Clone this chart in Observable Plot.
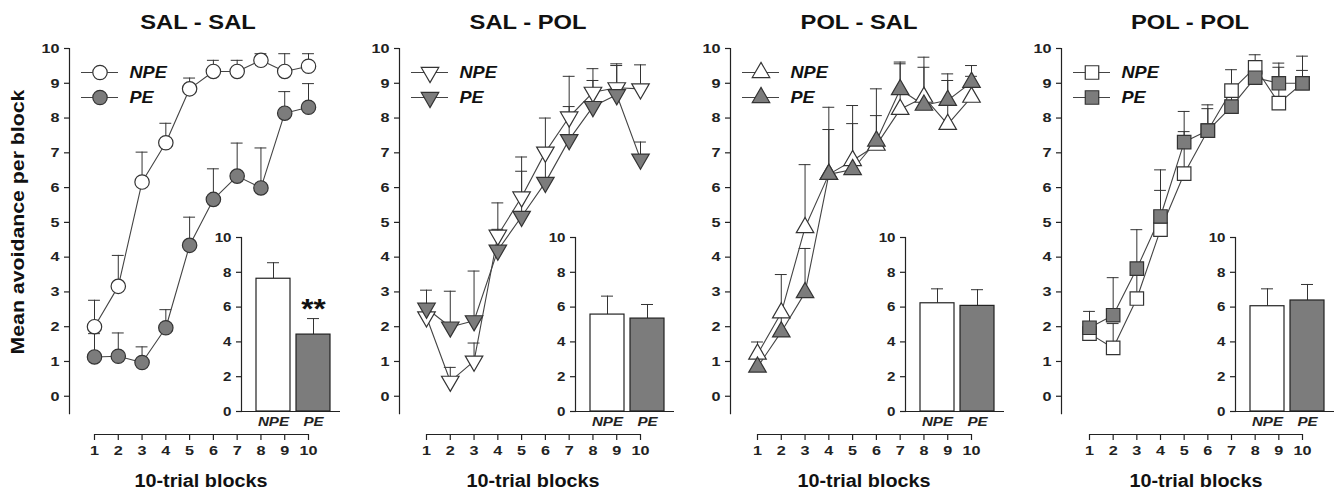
<!DOCTYPE html>
<html>
<head>
<meta charset="utf-8">
<script src="https://cdn.jsdelivr.net/npm/d3@7"></script>
<script src="https://cdn.jsdelivr.net/npm/@observablehq/plot@0.6"></script>
<style>
  body { margin: 0; background: #fff; }
  #chart { position: relative; width: 1337px; height: 502px; overflow: hidden;
           font-family: "Liberation Sans", Arial, sans-serif; color: #111; }
  #chart svg { position: absolute; background: transparent; max-width: none; }
  .lbl { position: absolute; font-weight: bold; white-space: nowrap; }
  .title { font-size: 21px; transform: translate(-50%, -50%) scaleX(1.13); }
  .xlab { font-size: 18px; transform: translate(-50%, -50%) scaleX(1.1); }
  .ylab { font-size: 19px; transform: translate(-50%, -50%) rotate(-90deg) scaleX(1.12); }
</style>
</head>
<body>
<div id="chart"></div>
<script>
// ---------------- data ----------------
const blocks = [1, 2, 3, 4, 5, 6, 7, 8, 9, 10];
const groups = ["NPE", "PE"];
const panelTitles = ["SAL - SAL", "SAL - POL", "POL - SAL", "POL - POL"];
const yTicks = [0, 1, 2, 3, 4, 5, 6, 7, 8, 9, 10];
const insetTicks = [0, 2, 4, 6, 8, 10];
const xLabel = "10-trial blocks";
const yLabel = "Mean avoidance per block";

// SAL - SAL
const salSalNPE    = [2.00, 3.16, 6.16, 7.29, 8.84, 9.34, 9.34, 9.66, 9.34, 9.49];
const salSalNPEsem = [0.76, 0.89, 0.86, 0.56, 0.31, 0.32, 0.32, 0.19, 0.51, 0.36];
const salSalPE     = [1.13, 1.15, 0.97, 1.97, 4.34, 5.66, 6.33, 5.99, 8.14, 8.31];
const salSalPEsem  = [0.67, 0.67, 0.45, 0.52, 0.81, 0.88, 0.95, 1.15, 0.62, 0.68];
// SAL - POL
const salPolNPE    = [2.28, 0.43, 1.01, 4.63, 5.73, 7.02, 8.03, 8.74, 8.87, 8.84];
const salPolNPEsem = [0.30, 0.40, 0.52, 0.93, 1.15, 0.98, 1.17, 0.68, 0.69, 0.69];
const salPolPE     = [2.53, 1.99, 2.17, 4.20, 5.17, 6.15, 7.38, 8.33, 8.67, 6.82];
const salPolPEsem  = [0.52, 1.03, 1.43, 0.60, 1.30, 0.99, 0.95, 0.75, 0.84, 0.49];
// POL - SAL
const polSalNPE    = [1.21, 2.40, 4.85, 6.38, 6.78, 7.22, 8.25, 8.60, 7.82, 8.60];
const polSalNPEsem = [0.35, 1.10, 1.81, 1.29, 1.06, 0.85, 1.31, 0.86, 1.26, 0.60];
const polSalPE     = [0.84, 1.85, 2.98, 6.38, 6.52, 7.34, 8.82, 8.37, 8.51, 9.03];
const polSalPEsem  = [0.30, 0.50, 1.27, 1.93, 1.84, 1.50, 0.79, 1.38, 0.76, 0.48];
// POL - POL
const polPolNPE    = [1.80, 1.39, 2.81, 4.79, 6.40, 7.64, 8.79, 9.46, 8.43, 9.00];
const polPolNPEsem = [0.35, 0.70, 0.90, 1.13, 1.21, 0.63, 0.60, 0.36, 1.03, 0.37];
const polPolPE     = [1.97, 2.33, 3.67, 5.17, 7.31, 7.64, 8.33, 9.16, 9.00, 9.00];
const polPolPEsem  = [0.47, 1.08, 1.12, 1.34, 0.88, 0.74, 0.57, 0.48, 0.58, 0.78];

// inset bars (overall mean avoidance)
const barNPE    = [7.63, 5.57, 6.22, 6.05];
const barNPEsem = [0.92, 1.06, 0.83, 1.00];
const barPE     = [4.42, 5.34, 6.07, 6.38];
const barPEsem  = [0.92, 0.81, 0.93, 0.92];
const barSig    = ["**", "", "", ""];

const seriesNPE = [salSalNPE, salPolNPE, polSalNPE, polPolNPE];
const seriesNPEsem = [salSalNPEsem, salPolNPEsem, polSalNPEsem, polPolNPEsem];
const seriesPE = [salSalPE, salPolPE, polSalPE, polPolPE];
const seriesPEsem = [salSalPEsem, salPolPEsem, polSalPEsem, polPolPEsem];

// ---------------- layout / style ----------------
const FONT = "'Liberation Sans', Arial, sans-serif";
const INK = "#222";
const fills = ["#ffffff", "#7c7c7c"];
const panelLeft = [0, 330, 661, 992];      // svg left; y-axis sits at +69
const firstBlockInset = [25, 27, 27, 28];  // px from y-axis to block 1
const lastBlockX = [308, 310, 310, 310];   // px of block 10 inside panel svg
const insetAxisOffset = [172, 176, 175, 174];
const MAIN = {w: 330, h: 502, ml: 69, mt: 48, mb: 68, yMin: -1.1, axisBottom: -0.5};

const triangleDown = {
  draw(context, size) {
    const y = -Math.sqrt(size / (Math.sqrt(3) * 3));
    context.moveTo(0, -y * 2);
    context.lineTo(-Math.sqrt(3) * y, y);
    context.lineTo(Math.sqrt(3) * y, y);
    context.closePath();
  }
};
const markers = [
  {symbol: "circle", r: 7.2},
  {symbol: triangleDown, r: 6.5},
  {symbol: "triangle", r: 6.5},
  {symbol: "square", r: 7.6}
];

const chart = document.getElementById("chart");
function stretchTexts(svg, sx) {
  svg.querySelectorAll("text").forEach(t => {
    const x = (parseFloat(t.getAttribute("x")) || 0) + (parseFloat(t.getAttribute("dx")) || 0);
    const y = parseFloat(t.getAttribute("y")) || 0;
    const tr = t.getAttribute("transform") || "";
    t.setAttribute("transform", `${tr} translate(${x},${y}) scale(${sx},1) translate(${-x},${-y})`);
  });
}
function place(el, left, top, sx) {
  el.style.left = left + "px";
  el.style.top = top + "px";
  chart.appendChild(el);
  if (sx) stretchTexts(el, sx);
}
function label(text, cls, x, y) {
  const d = document.createElement("div");
  d.className = "lbl " + cls;
  d.textContent = text;
  d.style.left = x + "px";
  d.style.top = y + "px";
  chart.appendChild(d);
}
const svgStyle = {fontFamily: FONT, fontSize: "13.5px", fontWeight: "bold", color: INK, background: "transparent", overflow: "visible"};

panelTitles.forEach((title, i) => {
  const rows = [];
  blocks.forEach((b, j) => {
    rows.push({block: b, group: "NPE", mean: seriesNPE[i][j], upper: seriesNPE[i][j] + seriesNPEsem[i][j]});
  });
  blocks.forEach((b, j) => {
    rows.push({block: b, group: "PE", mean: seriesPE[i][j], upper: seriesPE[i][j] + seriesPEsem[i][j]});
  });
  const mk = markers[i];
  const pxPerUnit = (MAIN.h - MAIN.mt - MAIN.mb) / (10 - MAIN.yMin);

  const main = Plot.plot({
    width: MAIN.w, height: MAIN.h,
    marginLeft: MAIN.ml, marginRight: MAIN.w - lastBlockX[i],
    marginTop: MAIN.mt, marginBottom: MAIN.mb,
    style: svgStyle,
    x: {domain: [blocks[0], blocks[blocks.length - 1]], insetLeft: firstBlockInset[i]},
    y: {domain: [MAIN.yMin, 10]},
    color: {domain: groups, range: fills},
    marks: [
      Plot.frame({anchor: "left", stroke: INK, strokeWidth: 1.2, insetBottom: (MAIN.axisBottom - MAIN.yMin) * pxPerUnit}),
      Plot.axisY(yTicks, {tickSize: 5, tickPadding: 5, label: null, stroke: INK, strokeWidth: 1.2}),
      Plot.ruleY([MAIN.yMin], {x1: blocks[0], x2: blocks[blocks.length - 1], stroke: INK, strokeWidth: 1.2}),
      Plot.axisX(blocks, {tickSize: 6, tickPadding: 5, label: null, stroke: INK, strokeWidth: 1.2}),
      Plot.ruleX(rows, {x: "block", y1: "mean", y2: "upper", stroke: "#333", strokeWidth: 1}),
      Plot.ruleY(rows, {y: "upper", x1: d => d.block - 0.25, x2: d => d.block + 0.25, stroke: "#333", strokeWidth: 1}),
      Plot.line(rows, {x: "block", y: "mean", z: "group", stroke: "#444", strokeWidth: 1.1}),
      Plot.dot(rows, {x: "block", y: "mean", symbol: mk.symbol, r: mk.r, fill: "group", stroke: "#333", strokeWidth: 1.2})
    ]
  });
  place(main, panelLeft[i], 0, 1.2);

  // legend
  const leg = Plot.plot({
    width: 115, height: 50, marginLeft: 12, marginRight: 66, marginTop: 12, marginBottom: 13,
    style: svgStyle,
    y: {type: "point", domain: groups, padding: 0, axis: null},
    color: {domain: groups, range: fills},
    marks: [
      Plot.ruleY(groups, {y: d => d, stroke: "#444", strokeWidth: 1.1}),
      Plot.dot(groups, {y: d => d, symbol: mk.symbol, r: mk.r, fill: d => d, stroke: "#333", strokeWidth: 1.2}),
      Plot.text(groups, {y: d => d, text: d => d, frameAnchor: "right", textAnchor: "start", dx: 11,
        fontSize: 16.5, fontWeight: "bold", fontStyle: "italic", fill: "#111"})
    ]
  });
  place(leg, panelLeft[i] + MAIN.ml, 60, 1.1);

  // inset bar chart
  const bars = [
    {group: "NPE", mean: barNPE[i], upper: barNPE[i] + barNPEsem[i], sig: ""},
    {group: "PE", mean: barPE[i], upper: barPE[i] + barPEsem[i], sig: barSig[i]}
  ];
  const inset = Plot.plot({
    width: 131, height: 206, marginLeft: 30, marginRight: 2, marginTop: 10, marginBottom: 22,
    style: svgStyle,
    x: {type: "band", domain: groups, paddingInner: 0.14, paddingOuter: 0, insetLeft: 15, insetRight: 9},
    y: {domain: [0, 10]},
    color: {domain: groups, range: fills},
    marks: [
      Plot.ruleX(bars, {x: "group", y1: "mean", y2: "upper", stroke: "#333", strokeWidth: 1}),
      Plot.tickY(bars, {x: "group", y: "upper", insetLeft: 11, insetRight: 11, stroke: "#333", strokeWidth: 1}),
      Plot.barY(bars, {x: "group", y: "mean", fill: "group", stroke: "#222", strokeWidth: 1.2}),
      Plot.frame({anchor: "left", stroke: INK, strokeWidth: 1.2}),
      Plot.ruleY([0], {stroke: INK, strokeWidth: 1.2}),
      Plot.axisY(insetTicks, {tickSize: 5, tickPadding: 5, label: null, stroke: INK, strokeWidth: 1.2}),
      Plot.axisX({tickSize: 0, tickPadding: 5, label: null, fontStyle: "italic"}),
      Plot.text(bars, {x: "group", y: "upper", text: "sig", lineAnchor: "bottom", dy: -1, fontSize: 28, fontWeight: "bold", fill: "#111"})
    ]
  });
  place(inset, panelLeft[i] + MAIN.ml + insetAxisOffset[i] - 30, 227, 1.12);

  // titles
  const axisX = panelLeft[i] + MAIN.ml;
  label(title, "title", axisX + 129, 22);
  const x1px = axisX + firstBlockInset[i];
  const x10px = panelLeft[i] + lastBlockX[i];
  label(xLabel, "xlab", (x1px + x10px) / 2, 481);
});
label(yLabel, "ylab", 18, 222);
</script>
</body>
</html>
